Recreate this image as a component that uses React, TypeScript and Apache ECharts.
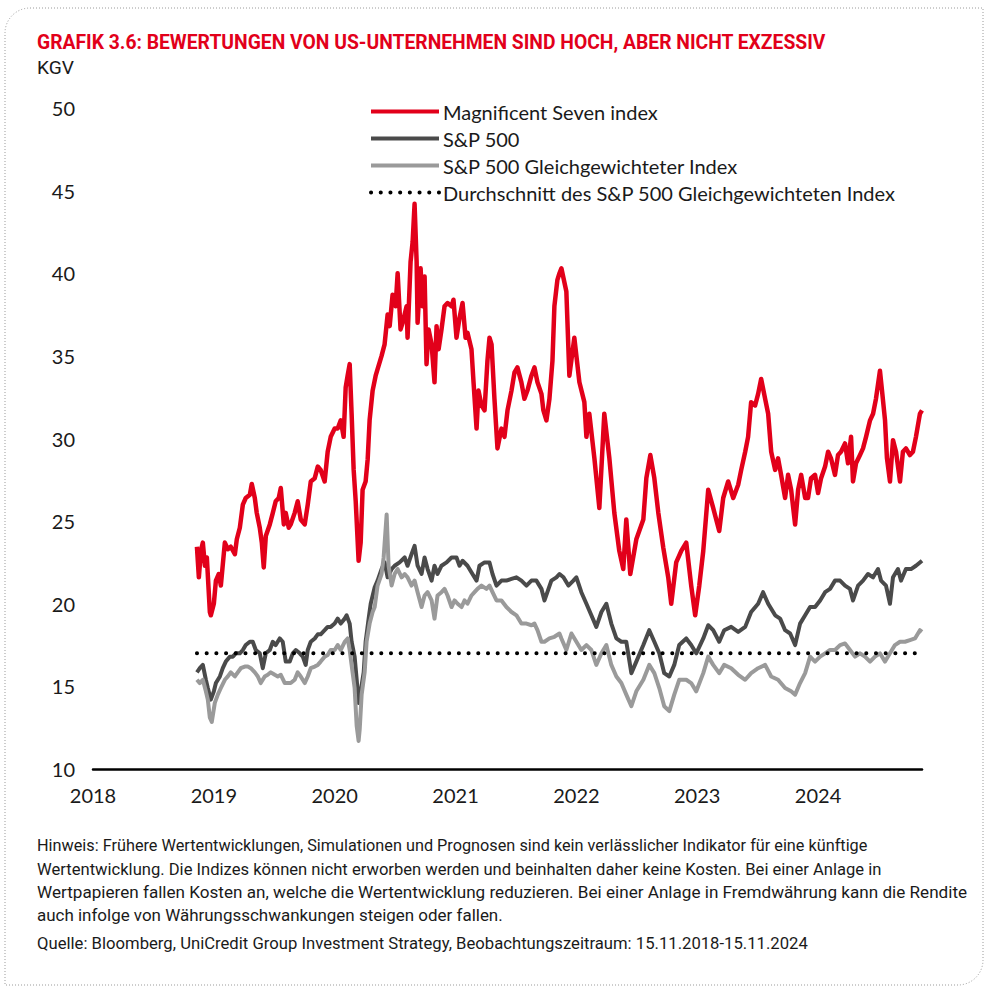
import React, { useEffect, useRef } from 'react';
import * as echarts from 'echarts';

const TITLE = 'GRAFIK 3.6: BEWERTUNGEN VON US-UNTERNEHMEN SIND HOCH, ABER NICHT EXZESSIV';
const UNIT_LABEL = 'KGV';
const NOTE_LINES = [
  'Hinweis: Frühere Wertentwicklungen, Simulationen und Prognosen sind kein verlässlicher Indikator für eine künftige',
  'Wertentwicklung. Die Indizes können nicht erworben werden und beinhalten daher keine Kosten. Bei einer Anlage in',
  'Wertpapieren fallen Kosten an, welche die Wertentwicklung reduzieren. Bei einer Anlage in Fremdwährung kann die Rendite',
  'auch infolge von Währungsschwankungen steigen oder fallen.',
];
const SOURCE = 'Quelle: Bloomberg, UniCredit Group Investment Strategy, Beobachtungszeitraum: 15.11.2018-15.11.2024';

const NAME_MAG7 = 'Magnificent Seven index';
const NAME_SPX = 'S&P 500';
const NAME_SPXEW = 'S&P 500 Gleichgewichteter Index';
const NAME_AVG = 'Durchschnitt des S&P 500 Gleichgewichteten Index';

const Y_MIN = 10;
const Y_MAX = 50;
const Y_STEP = 5;
const X_FIRST_YEAR = 2018;
const PERIOD_START = 2018.86;
const PERIOD_END = 2024.86;
const EQUAL_WEIGHT_AVERAGE = 17.0;

// [decimal year, P/E]
const magnificentSeven: [number, number][] = [
  [2018.860, 23.45], [2018.876, 21.6], [2018.893, 23.2], [2018.909, 23.7], [2018.926, 22.3], [2018.942, 22.8],
  [2018.967, 19.5], [2018.975, 19.3], [2019.000, 20.0], [2019.017, 21.4], [2019.041, 21.8], [2019.058, 21.1],
  [2019.091, 23.7], [2019.116, 23.3], [2019.140, 23.45], [2019.174, 23.0], [2019.190, 23.9], [2019.215, 24.6],
  [2019.240, 26.0], [2019.264, 26.4], [2019.298, 26.6], [2019.314, 27.25], [2019.339, 26.4], [2019.355, 25.5],
  [2019.380, 24.6], [2019.397, 23.7], [2019.413, 22.2], [2019.430, 24.1], [2019.463, 24.8], [2019.488, 25.5],
  [2019.512, 26.2], [2019.537, 26.4], [2019.554, 27.0], [2019.579, 24.8], [2019.595, 25.5], [2019.620, 24.6],
  [2019.636, 24.8], [2019.669, 25.5], [2019.694, 26.2], [2019.719, 25.1], [2019.752, 24.8], [2019.777, 26.0],
  [2019.802, 27.4], [2019.835, 27.6], [2019.860, 28.3], [2019.884, 28.1], [2019.917, 27.4], [2019.942, 29.2],
  [2019.967, 30.1], [2020.000, 30.6], [2020.025, 30.6], [2020.050, 31.1], [2020.074, 30.1], [2020.091, 33.1],
  [2020.107, 33.8], [2020.124, 34.5], [2020.140, 31.5], [2020.157, 28.1], [2020.174, 26.2], [2020.198, 22.6],
  [2020.215, 23.7], [2020.231, 26.9], [2020.256, 27.4], [2020.273, 28.75], [2020.289, 31.1], [2020.314, 32.9],
  [2020.339, 33.8], [2020.355, 34.2], [2020.388, 35.0], [2020.413, 35.7], [2020.438, 37.5], [2020.455, 36.8],
  [2020.479, 38.7], [2020.504, 38.0], [2020.521, 40.0], [2020.545, 36.6], [2020.562, 37.0], [2020.595, 38.0],
  [2020.603, 36.1], [2020.628, 40.7], [2020.645, 41.9], [2020.661, 44.2], [2020.678, 40.7], [2020.686, 37.0],
  [2020.711, 40.3], [2020.727, 38.0], [2020.744, 39.8], [2020.760, 34.5], [2020.777, 36.6], [2020.802, 35.7],
  [2020.826, 33.4], [2020.843, 36.8], [2020.860, 35.4], [2020.884, 36.6], [2020.909, 38.0], [2020.934, 38.2],
  [2020.967, 38.0], [2020.983, 38.4], [2021.008, 36.1], [2021.033, 37.3], [2021.058, 38.2], [2021.083, 36.1],
  [2021.099, 36.4], [2021.132, 35.4], [2021.149, 33.4], [2021.174, 30.6], [2021.190, 32.9], [2021.215, 32.0],
  [2021.240, 31.7], [2021.264, 34.7], [2021.281, 36.1], [2021.298, 35.7], [2021.322, 32.4], [2021.347, 29.4],
  [2021.380, 30.6], [2021.405, 30.1], [2021.430, 31.7], [2021.463, 32.9], [2021.488, 34.0], [2021.512, 34.3],
  [2021.545, 33.4], [2021.570, 32.4], [2021.595, 32.9], [2021.628, 33.8], [2021.653, 34.3], [2021.678, 33.4],
  [2021.711, 32.7], [2021.727, 31.7], [2021.752, 31.1], [2021.777, 32.4], [2021.802, 34.7], [2021.818, 38.0],
  [2021.843, 39.6], [2021.860, 40.0], [2021.876, 40.3], [2021.917, 38.9], [2021.942, 33.8], [2021.983, 36.1],
  [2022.025, 33.4], [2022.066, 32.2], [2022.083, 30.1], [2022.107, 31.5], [2022.149, 28.8], [2022.190, 25.8],
  [2022.231, 31.5], [2022.273, 28.8], [2022.314, 25.5], [2022.355, 23.2], [2022.388, 22.1], [2022.413, 25.1],
  [2022.446, 21.8], [2022.496, 23.9], [2022.554, 25.1], [2022.579, 27.6], [2022.612, 29.0], [2022.645, 27.6],
  [2022.678, 25.5], [2022.719, 23.4], [2022.760, 21.6], [2022.785, 20.0], [2022.826, 22.5], [2022.868, 23.2],
  [2022.909, 23.7], [2022.950, 21.1], [2022.983, 19.3], [2023.017, 21.1], [2023.050, 23.2], [2023.091, 26.9],
  [2023.132, 25.8], [2023.182, 24.4], [2023.215, 26.4], [2023.256, 27.4], [2023.298, 26.4], [2023.339, 27.2],
  [2023.364, 28.1], [2023.397, 29.2], [2023.421, 30.1], [2023.446, 32.2], [2023.479, 32.0], [2023.504, 32.7],
  [2023.529, 33.6], [2023.562, 32.4], [2023.587, 31.5], [2023.612, 29.2], [2023.645, 28.1], [2023.669, 28.8],
  [2023.694, 27.8], [2023.727, 26.4], [2023.752, 27.8], [2023.777, 26.9], [2023.810, 24.8], [2023.835, 26.9],
  [2023.860, 27.8], [2023.893, 26.4], [2023.917, 26.4], [2023.942, 27.6], [2023.975, 27.8], [2024.000, 26.7],
  [2024.025, 27.6], [2024.058, 28.3], [2024.083, 29.2], [2024.107, 28.8], [2024.140, 27.8], [2024.165, 29.0],
  [2024.190, 29.2], [2024.223, 29.7], [2024.248, 28.5], [2024.273, 30.1], [2024.289, 27.4], [2024.314, 28.5],
  [2024.347, 29.0], [2024.372, 29.4], [2024.397, 30.1], [2024.430, 31.1], [2024.455, 31.5], [2024.479, 32.4],
  [2024.512, 34.1], [2024.529, 32.9], [2024.554, 31.1], [2024.570, 28.8], [2024.595, 27.4], [2024.620, 29.9],
  [2024.645, 29.2], [2024.678, 27.4], [2024.702, 29.2], [2024.727, 29.4], [2024.760, 29.0], [2024.785, 29.2],
  [2024.810, 30.1], [2024.843, 31.5], [2024.860, 31.7],
];

const sp500: [number, number][] = [
  [2018.860, 15.85], [2018.884, 16.1], [2018.909, 16.3], [2018.934, 15.4], [2018.950, 14.9], [2018.975, 14.2],
  [2019.000, 14.7], [2019.017, 15.2], [2019.050, 15.6], [2019.074, 16.1], [2019.099, 16.5], [2019.132, 16.8],
  [2019.157, 16.8], [2019.182, 17.0], [2019.215, 17.0], [2019.240, 17.2], [2019.264, 17.5], [2019.298, 17.7],
  [2019.322, 17.7], [2019.347, 17.2], [2019.380, 17.0], [2019.405, 16.1], [2019.430, 17.0], [2019.463, 17.2],
  [2019.488, 17.7], [2019.512, 17.5], [2019.545, 17.9], [2019.570, 17.7], [2019.595, 16.5], [2019.628, 16.5],
  [2019.653, 17.0], [2019.678, 17.2], [2019.711, 17.0], [2019.736, 16.8], [2019.760, 16.3], [2019.777, 17.2],
  [2019.802, 17.7], [2019.835, 17.9], [2019.860, 18.15], [2019.884, 18.15], [2019.917, 18.4], [2019.942, 18.6],
  [2019.967, 18.6], [2020.000, 18.8], [2020.025, 19.1], [2020.050, 18.8], [2020.083, 19.1], [2020.099, 19.3],
  [2020.124, 18.8], [2020.140, 17.7], [2020.165, 16.8], [2020.182, 15.4], [2020.198, 14.0], [2020.215, 14.7],
  [2020.240, 15.85], [2020.256, 17.7], [2020.281, 19.1], [2020.298, 20.0], [2020.331, 21.0], [2020.355, 21.4],
  [2020.388, 22.1], [2020.413, 22.5], [2020.438, 21.6], [2020.471, 22.1], [2020.496, 22.3], [2020.537, 22.5],
  [2020.579, 22.8], [2020.603, 22.3], [2020.636, 23.0], [2020.661, 23.5], [2020.686, 22.3], [2020.719, 21.8],
  [2020.744, 22.8], [2020.769, 22.1], [2020.802, 21.4], [2020.826, 22.3], [2020.851, 21.8], [2020.884, 22.3],
  [2020.926, 22.5], [2020.967, 22.8], [2021.008, 22.8], [2021.033, 22.3], [2021.058, 22.6], [2021.099, 22.3],
  [2021.140, 21.8], [2021.174, 21.4], [2021.198, 22.3], [2021.240, 22.5], [2021.281, 22.5], [2021.306, 21.8],
  [2021.339, 21.1], [2021.380, 21.4], [2021.421, 21.4], [2021.463, 21.5], [2021.504, 21.6], [2021.545, 21.4],
  [2021.587, 21.1], [2021.628, 21.4], [2021.669, 21.4], [2021.711, 20.9], [2021.736, 20.2], [2021.760, 20.7],
  [2021.793, 21.4], [2021.835, 21.6], [2021.860, 21.8], [2021.893, 21.6], [2021.934, 21.1], [2021.975, 21.4],
  [2022.000, 21.6], [2022.041, 20.7], [2022.083, 20.0], [2022.124, 19.3], [2022.165, 18.6], [2022.207, 19.5],
  [2022.248, 20.0], [2022.289, 18.8], [2022.331, 17.9], [2022.372, 17.7], [2022.413, 17.7], [2022.455, 15.8],
  [2022.496, 16.5], [2022.554, 17.5], [2022.603, 18.4], [2022.645, 17.7], [2022.686, 17.0], [2022.727, 15.8],
  [2022.769, 15.6], [2022.810, 16.3], [2022.851, 17.5], [2022.909, 17.9], [2022.950, 17.5], [2022.992, 17.0],
  [2023.050, 17.9], [2023.091, 18.7], [2023.132, 18.4], [2023.182, 17.7], [2023.223, 18.4], [2023.281, 18.6],
  [2023.339, 18.3], [2023.397, 18.6], [2023.446, 19.5], [2023.504, 20.0], [2023.545, 20.7], [2023.587, 20.0],
  [2023.645, 19.3], [2023.686, 19.1], [2023.727, 18.4], [2023.769, 18.2], [2023.810, 17.5], [2023.851, 18.8],
  [2023.893, 19.3], [2023.934, 19.8], [2023.975, 19.8], [2024.017, 20.2], [2024.058, 20.7], [2024.099, 20.9],
  [2024.140, 21.4], [2024.182, 21.4], [2024.223, 21.1], [2024.264, 20.9], [2024.289, 20.2], [2024.331, 21.1],
  [2024.372, 21.4], [2024.413, 21.8], [2024.455, 21.6], [2024.496, 22.1], [2024.521, 21.4], [2024.562, 21.1],
  [2024.595, 20.0], [2024.620, 21.6], [2024.661, 22.1], [2024.686, 21.4], [2024.727, 22.1], [2024.769, 22.1],
  [2024.810, 22.3], [2024.843, 22.5], [2024.860, 22.6],
];

const sp500EqualWeight: [number, number][] = [
  [2018.860, 15.4], [2018.884, 15.2], [2018.909, 15.4], [2018.934, 14.7], [2018.950, 14.2], [2018.967, 13.1],
  [2018.983, 12.85], [2019.008, 14.0], [2019.033, 14.5], [2019.058, 14.9], [2019.091, 15.4], [2019.116, 15.6],
  [2019.140, 15.85], [2019.174, 15.6], [2019.198, 15.85], [2019.223, 16.1], [2019.256, 16.2], [2019.281, 16.2],
  [2019.306, 16.1], [2019.339, 15.85], [2019.364, 15.6], [2019.388, 15.2], [2019.421, 15.6], [2019.446, 15.7],
  [2019.471, 15.85], [2019.504, 15.7], [2019.529, 15.6], [2019.554, 15.7], [2019.587, 15.2], [2019.612, 15.2],
  [2019.636, 15.2], [2019.669, 15.4], [2019.694, 15.85], [2019.719, 15.6], [2019.752, 15.2], [2019.777, 15.6],
  [2019.802, 16.1], [2019.835, 16.2], [2019.860, 16.3], [2019.884, 16.5], [2019.917, 16.8], [2019.942, 16.9],
  [2019.967, 17.2], [2020.000, 17.2], [2020.025, 17.5], [2020.050, 17.2], [2020.083, 17.7], [2020.107, 17.9],
  [2020.124, 17.2], [2020.140, 16.3], [2020.165, 14.9], [2020.182, 12.6], [2020.198, 11.7], [2020.207, 12.4],
  [2020.223, 14.5], [2020.248, 15.85], [2020.264, 17.7], [2020.289, 18.8], [2020.314, 19.5], [2020.331, 19.8],
  [2020.355, 21.1], [2020.388, 21.8], [2020.405, 22.8], [2020.430, 25.4], [2020.446, 22.3], [2020.471, 21.1],
  [2020.496, 21.8], [2020.521, 22.1], [2020.554, 21.6], [2020.579, 21.8], [2020.603, 21.6], [2020.636, 21.1],
  [2020.661, 21.4], [2020.686, 20.7], [2020.719, 19.8], [2020.744, 20.5], [2020.769, 20.7], [2020.802, 20.2],
  [2020.826, 19.1], [2020.851, 20.5], [2020.884, 20.7], [2020.909, 20.9], [2020.934, 20.5], [2020.967, 19.8],
  [2020.992, 20.2], [2021.017, 20.0], [2021.050, 19.8], [2021.074, 20.2], [2021.099, 20.0], [2021.132, 20.5],
  [2021.157, 20.7], [2021.182, 20.9], [2021.215, 21.1], [2021.256, 20.9], [2021.281, 21.1], [2021.306, 20.7],
  [2021.339, 20.2], [2021.380, 20.2], [2021.421, 19.8], [2021.463, 19.5], [2021.504, 19.3], [2021.545, 18.8],
  [2021.587, 18.8], [2021.628, 18.7], [2021.653, 18.8], [2021.678, 18.4], [2021.711, 17.7], [2021.736, 17.7],
  [2021.777, 17.9], [2021.818, 18.0], [2021.860, 18.2], [2021.876, 17.9], [2021.917, 17.2], [2021.959, 18.2],
  [2022.000, 17.7], [2022.041, 17.2], [2022.083, 17.5], [2022.124, 17.2], [2022.165, 16.3], [2022.207, 17.0],
  [2022.248, 17.5], [2022.289, 16.3], [2022.331, 15.6], [2022.372, 15.2], [2022.413, 14.5], [2022.455, 13.8],
  [2022.496, 14.7], [2022.554, 15.4], [2022.603, 16.3], [2022.645, 15.8], [2022.686, 14.9], [2022.727, 13.8],
  [2022.769, 13.5], [2022.810, 14.5], [2022.851, 15.4], [2022.909, 15.4], [2022.950, 15.2], [2022.992, 14.7],
  [2023.050, 15.8], [2023.091, 16.8], [2023.132, 16.3], [2023.182, 15.8], [2023.223, 16.3], [2023.281, 16.1],
  [2023.339, 15.7], [2023.397, 15.4], [2023.446, 15.8], [2023.504, 16.1], [2023.562, 16.3], [2023.612, 15.6],
  [2023.669, 15.4], [2023.727, 14.9], [2023.777, 14.7], [2023.810, 14.5], [2023.851, 15.2], [2023.893, 15.8],
  [2023.934, 16.8], [2023.975, 16.5], [2024.017, 16.8], [2024.058, 17.0], [2024.099, 17.2], [2024.140, 17.2],
  [2024.182, 17.5], [2024.223, 17.6], [2024.264, 17.2], [2024.306, 16.8], [2024.347, 17.0], [2024.388, 16.8],
  [2024.430, 16.5], [2024.471, 16.8], [2024.512, 17.0], [2024.554, 16.5], [2024.595, 17.0], [2024.636, 17.5],
  [2024.678, 17.7], [2024.719, 17.7], [2024.760, 17.8], [2024.802, 17.9], [2024.843, 18.4], [2024.860, 18.3],
];

const RED = '#e2001a';
const DARK = '#4a4a4a';
const LIGHT = '#9a9a9a';
const TEXT = '#1a1a1a';

export default function App() {
  const ref = useRef<HTMLDivElement>(null);

  useEffect(() => {
    if (!ref.current) return;
    const ctx = document.createElement('canvas').getContext('2d') as CanvasRenderingContext2D;
    const widthOf = (t: string, f: string) => {
      ctx.font = f;
      return ctx.measureText(t).width;
    };
    const titleSize = 21;
    const titleScale = 789 / widthOf(TITLE, `bold ${titleSize}px Roboto`);
    const noteSize = 17;
    const noteFont = `${noteSize}px Roboto`;
    const noteRight = [868, 882, 968, 503];
    const sourceRight = 808;
    const fit = (t: string, right: number) => (right - 37) / widthOf(t, noteFont);
    const avgScale = fit(NOTE_LINES[2], noteRight[2]);

    const chart = echarts.init(ref.current, undefined, { renderer: 'svg' });

    const noteY = [845, 869, 892, 915];
    const textEl = (text: string, x: number, y: number, size: number, weight: string, color: string, sx: number) => ({
      type: 'text',
      x,
      y,
      scaleX: sx,
      silent: true,
      style: {
        text,
        fontSize: size,
        fontFamily: 'Roboto',
        fontWeight: weight,
        fill: color,
        textVerticalAlign: 'middle',
        verticalAlign: 'middle',
      },
    });

    chart.setOption({
      animation: false,
      backgroundColor: '#ffffff',
      grid: { left: 93, right: 66, top: 108, bottom: 225, containLabel: false },
      legend: {
        orient: 'vertical',
        left: 369,
        top: 98,
        padding: 0,
        itemWidth: 68,
        itemHeight: 14,
        itemGap: 0,
        selectedMode: false,
        data: [NAME_MAG7, NAME_SPX, NAME_SPXEW, NAME_AVG],
        lineStyle: { width: 4 },
        itemStyle: { opacity: 0 },
        textStyle: { fontFamily: 'Lato', fontSize: 20, color: TEXT, lineHeight: 27, padding: [0, 0, 0, -1] },
      },
      xAxis: {
        type: 'value',
        min: X_FIRST_YEAR,
        max: PERIOD_END,
        interval: 1,
        axisLine: { show: true, lineStyle: { color: '#000', width: 2.5 } },
        axisTick: { show: false },
        splitLine: { show: false },
        axisLabel: {
          margin: 16,
          fontFamily: 'Lato',
          fontSize: 20,
          color: TEXT,
          showMaxLabel: false,
          formatter: (v: number) => (Math.abs(v - Math.round(v)) < 1e-6 ? String(Math.round(v)) : ''),
        },
      },
      yAxis: {
        type: 'value',
        min: Y_MIN,
        max: Y_MAX,
        interval: Y_STEP,
        axisLine: { show: false },
        axisTick: { show: false },
        splitLine: { show: false },
        axisLabel: { margin: 18, fontFamily: 'Lato', fontSize: 20, color: TEXT },
      },
      series: [
        {
          name: NAME_SPX,
          type: 'line',
          data: sp500,
          symbol: 'none',
          showSymbol: false,
          lineStyle: { color: DARK, width: 4, join: 'round' },
          itemStyle: { color: DARK },
          emphasis: { disabled: true },
        },
        {
          name: NAME_SPXEW,
          type: 'line',
          data: sp500EqualWeight,
          symbol: 'none',
          showSymbol: false,
          lineStyle: { color: LIGHT, width: 4, join: 'round' },
          itemStyle: { color: LIGHT },
          emphasis: { disabled: true },
        },
        {
          name: NAME_MAG7,
          type: 'line',
          data: magnificentSeven,
          symbol: 'none',
          showSymbol: false,
          lineStyle: { color: RED, width: 4.5, join: 'round' },
          itemStyle: { color: RED },
          emphasis: { disabled: true },
        },
        {
          name: NAME_AVG,
          type: 'line',
          data: [
            [PERIOD_START, EQUAL_WEIGHT_AVERAGE],
            [PERIOD_END, EQUAL_WEIGHT_AVERAGE],
          ],
          symbol: 'none',
          showSymbol: false,
          lineStyle: { color: '#000', width: 4, type: [0.1, 9.6], cap: 'round' },
          itemStyle: { color: '#000' },
          emphasis: { disabled: true },
        },
      ],
      graphic: [
        {
          type: 'rect',
          silent: true,
          shape: { x: 5, y: 8, width: 978, height: 977, r: [25, 0, 25, 0] },
          style: { fill: 'none', stroke: '#9a9a9a', lineWidth: 1, lineDash: [1, 2] },
        },
        textEl(TITLE, 37, 42, titleSize, 'bold', RED, titleScale),
        textEl(UNIT_LABEL, 37, 68, 19, 'normal', TEXT, avgScale),
        ...NOTE_LINES.map((l, i) => textEl(l, 37, noteY[i], noteSize, 'normal', TEXT, fit(l, noteRight[i]))),
        textEl(SOURCE, 37, 943, noteSize, 'normal', TEXT, fit(SOURCE, sourceRight)),
      ],
    });

    return () => chart.dispose();
  }, []);

  return <div ref={ref} style={{ position: 'absolute', left: 0, top: 0, width: 988, height: 994 }} />;
}
